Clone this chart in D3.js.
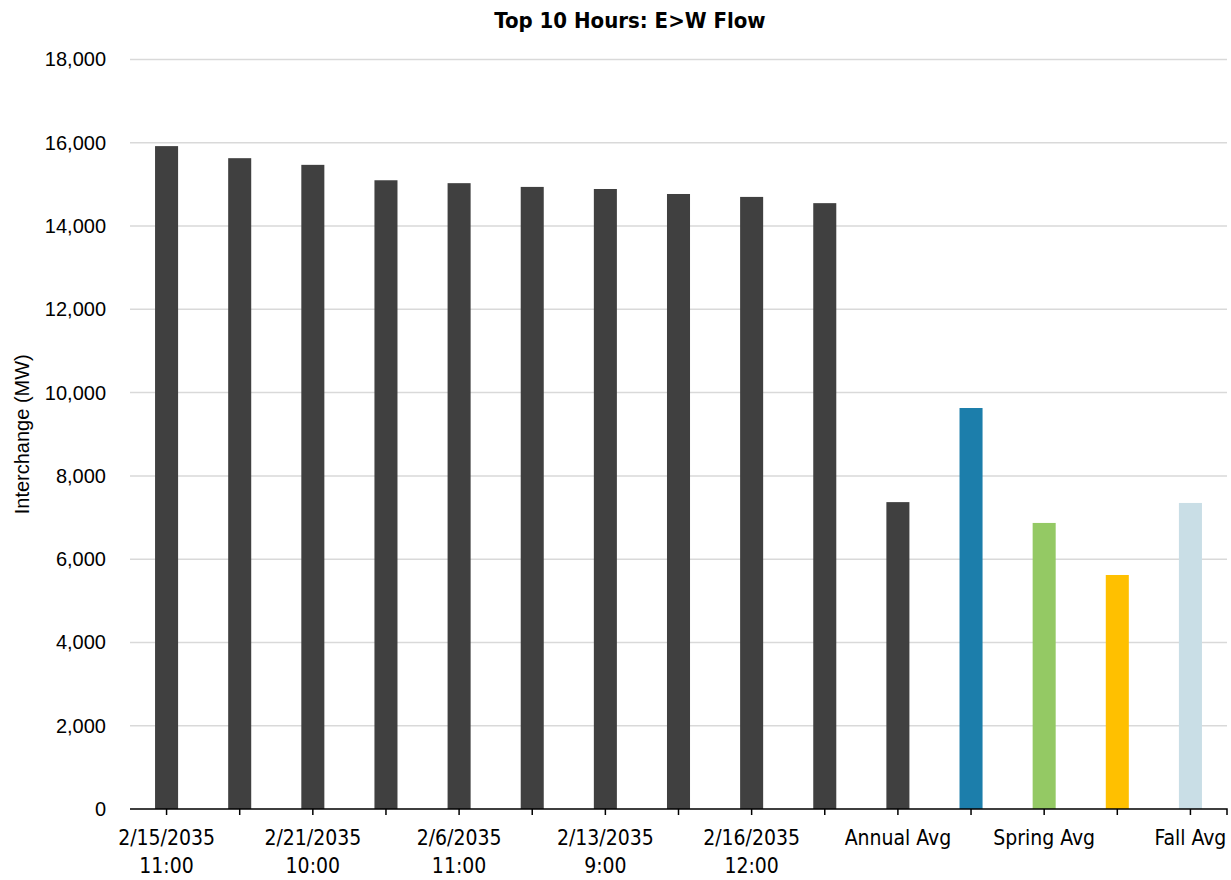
<!DOCTYPE html>
<html>
<head>
<meta charset="utf-8">
<script src="https://cdn.jsdelivr.net/npm/d3@7"></script>
<style>
  html, body { margin: 0; padding: 0; background: #fff; }
  svg { display: block; }
</style>
</head>
<body>
<svg id="chart" width="1231" height="880"></svg>
<script>
// ---- Data ----
const categoryLines = [
  ["2/15/2035", "11:00"],
  [""],
  ["2/21/2035", "10:00"],
  [""],
  ["2/6/2035", "11:00"],
  [""],
  ["2/13/2035", "9:00"],
  [""],
  ["2/16/2035", "12:00"],
  [""],
  ["Annual Avg"],
  ["Winter Avg"],
  ["Spring Avg"],
  ["Summer Avg"],
  ["Fall Avg"]
];
const values = [15920, 15630, 15470, 15100, 15030, 14940, 14890, 14770, 14700, 14550,
                7370, 9630, 6870, 5620, 7350];
const barColors = ["#404040", "#404040", "#404040", "#404040", "#404040",
                   "#404040", "#404040", "#404040", "#404040", "#404040",
                   "#404040", "#1C7EAB", "#94C964", "#FFC000", "#C9DEE6"];
const yTicks = [0, 2000, 4000, 6000, 8000, 10000, 12000, 14000, 16000, 18000];
const chartTitle = "Top 10 Hours: E>W Flow";
const yTitle = "Interchange (MW)";

(function () {
// ---- Layout ----
const svg = d3.select("#chart");
const mLeft = 130, mRight = 1227, mTop = 59.5, mBottom = 809;
const narrow = "'Liberation Sans Narrow', 'DejaVu Sans Condensed', 'Roboto Condensed', sans-serif";
const arial = "'Liberation Sans', Arial, sans-serif";

const idx = d3.range(values.length);
const x = d3.scaleBand().domain(idx).range([mLeft, mRight]).paddingInner(0.685).paddingOuter(0.3425);
const y = d3.scaleLinear().domain([0, 18000]).range([mBottom, mTop]);

// gridlines
svg.append("g").selectAll("line").data(yTicks.filter(d => d > 0)).join("line")
  .attr("x1", mLeft).attr("x2", mRight)
  .attr("y1", d => y(d)).attr("y2", d => y(d))
  .attr("stroke", "#d9d9d9").attr("stroke-width", 1.5);

// y axis labels
const yAxis = d3.axisLeft(y).tickValues(yTicks).tickFormat(d3.format(",")).tickSize(0).tickPadding(24);
const gy = svg.append("g").attr("transform", `translate(${mLeft},0)`).call(yAxis);
gy.select(".domain").remove();
gy.selectAll("text").attr("font-family", arial)
  .attr("font-size", 20).attr("fill", "#000");

// bars
svg.append("g").selectAll("rect").data(idx).join("rect")
  .attr("x", i => x(i)).attr("width", x.bandwidth())
  .attr("y", i => y(values[i])).attr("height", i => y(0) - y(values[i]))
  .attr("fill", i => barColors[i]);

// x axis
const xAxis = d3.axisBottom(x).tickSize(6).tickFormat("");
const gx = svg.append("g").attr("transform", `translate(0,${mBottom})`).call(xAxis);
gx.select(".domain").attr("d", `M${mLeft},0H${mRight}V6`).attr("stroke", "#000").attr("stroke-width", 1.5).attr("fill", "none");
gx.selectAll(".tick line").attr("stroke", "#000").attr("stroke-width", 1.5);

// x labels (every other category)
const lab = svg.append("g");
idx.filter(i => i % 2 === 0).forEach(i => {
  const cx = x(i) + x.bandwidth() / 2;
  const t = lab.append("text").attr("text-anchor", "middle")
    .attr("font-family", narrow).attr("font-size", 21).attr("fill", "#000");
  categoryLines[i].forEach((line, k) => {
    t.append("tspan").attr("x", cx).attr("y", 845 + k * 28).text(line);
  });
});

// title
svg.append("text").attr("x", 630).attr("y", 28).attr("text-anchor", "middle")
  .attr("font-family", narrow).attr("font-weight", "bold").attr("font-size", 22)
  .attr("fill", "#000").text(chartTitle);

// y title
svg.append("text").attr("transform", `translate(29,${(mTop + mBottom) / 2}) rotate(-90)`)
  .attr("text-anchor", "middle").attr("font-family", arial).attr("font-size", 20)
  .attr("fill", "#000").text(yTitle);
})();
</script>
</body>
</html>
